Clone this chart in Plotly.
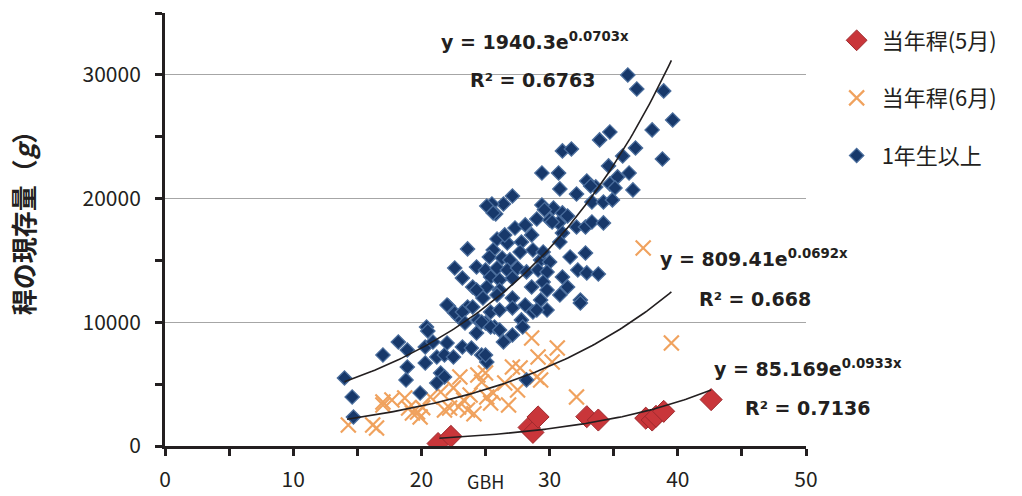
import numpy as np
import plotly.graph_objects as go

# 当年稈(5月)
may_gbh = [21.3, 22.3, 28.4, 28.7, 29.1, 32.9, 33.8, 37.5, 38.0, 38.3, 38.9, 42.6]
may_mass = [200, 780, 1500, 1100, 2350, 2370, 2100, 2250, 2100, 2400, 2800, 3750]

# 当年稈(6月)
jun_gbh = [28.6, 30.6, 29.1, 30.2, 27.1, 27.7, 29.0, 29.3, 23.0, 24.4, 25.0, 24.7,
           27.5, 17.0, 18.7, 19.9, 19.3, 19.0, 20.7, 21.5, 21.8, 22.2, 22.9, 23.6,
           23.3, 25.1, 25.6, 25.4, 26.8, 32.1, 39.5, 14.3, 16.2, 16.5, 17.7, 19.7,
           37.3, 17.0, 23.8, 26.5, 24.1, 20.1, 22.5]
jun_mass = [8730, 7920, 7190, 6790, 6390, 6310, 5580, 5340, 5580, 5740, 5900, 5170,
            4530, 3560, 3880, 2340, 2670, 3070, 3960, 4370, 2910, 3070, 3150, 2910,
            3720, 3960, 4280, 3480, 3310, 3960, 8330, 1700, 1700, 1460, 3720, 2750,
            16010, 3310, 4120, 5090, 2600, 3100, 4700]

# 1年生以上
old_gbh = [36.1, 36.8, 38.9, 39.6, 38.0, 34.7, 33.9, 38.8, 36.7, 31.0, 31.7, 29.4,
           30.7, 35.7, 34.6, 35.3, 36.2, 32.9, 33.6, 30.8, 32.1, 34.7, 35.1, 36.5,
           27.1, 26.4, 29.4, 30.3, 33.3, 34.2, 34.9, 25.5, 25.8, 31.0, 31.4, 29.0,
           30.0, 30.7, 23.6, 25.9, 26.7, 27.8, 28.6, 25.6, 25.3, 26.3, 26.9, 27.7,
           28.7, 29.3, 30.0, 31.0, 31.6, 22.6, 24.3, 25.0, 25.9, 26.7, 27.5, 28.2,
           29.1, 29.8, 31.0, 23.2, 25.4, 26.1, 27.1, 24.0, 25.1, 26.1, 28.6, 29.5,
           31.4, 24.8, 24.3, 25.9, 27.1, 28.1, 29.3, 29.8, 30.8, 22.1, 23.6, 22.9,
           24.4, 25.4, 26.1, 27.1, 27.8, 28.7, 29.8, 20.4, 25.0, 25.7, 33.2, 29.6,
           30.2, 32.1, 32.8, 33.3, 34.2, 30.8, 32.8, 29.5, 32.2, 32.9, 33.8, 32.4,
           14.0, 14.6, 14.7, 17.0, 18.2, 18.9, 18.9, 18.8, 19.9, 20.5, 20.3, 20.3,
           20.9, 21.2, 21.8, 22.0, 22.5, 21.5, 21.8, 21.2, 23.2, 23.9, 24.7, 25.1,
           22.0, 22.6, 23.2, 24.0, 24.7, 23.4, 24.3, 25.4, 26.1, 26.4, 27.1, 27.9,
           29.0, 32.4, 25.0, 28.2, 25.1, 25.6, 26.5, 27.3, 28.1]
old_mass = [29990, 28860, 28700, 26350, 25550, 25380, 24740, 23200, 24090, 23850, 24010, 22070,
            22070, 23440, 22640, 21750, 22070, 21420, 20940, 20780, 20370, 21180, 20860, 20700,
            20210, 19560, 19480, 19240, 19720, 19720, 19890, 19560, 18760, 18840, 18590, 18350,
            18270, 18030, 15930, 16730, 16410, 16490, 17060, 15840, 15280, 15200, 15040, 15680,
            15840, 15040, 14870, 17220, 15280, 14390, 14470, 14230, 14390, 14230, 14390, 14070,
            14230, 14070, 13660, 13580, 13660, 13420, 13580, 12850, 12850, 12610, 12850, 13260,
            12850, 11960, 12610, 12210, 11960, 11400, 11800, 12610, 12210, 11320, 11240, 10430,
            10190, 10830, 10990, 11160, 10190, 10830, 10990, 9620, 9940, 9620, 21020, 19100,
            18110, 17700, 17700, 18110, 18030, 16490, 15600, 15680, 14230, 13990, 13900, 11800,
            5500, 3960, 2340, 7360, 8410, 7760, 6390, 5340, 4280, 9300, 8000, 6710,
            8410, 7190, 7360, 8330, 7190, 5900, 5580, 5090, 8000, 7920, 7360, 6790,
            11400, 10750, 10830, 11240, 10020, 9940, 9130, 9620, 9380, 8410, 8970, 9620,
            10990, 11560, 7360, 5340, 19400, 18840, 17060, 17620, 17870]

# exponential fits: (a, b, x range, equation label, R² label)
fits = {
    "old": (1940.3, 0.0703, (14.0, 39.5), "y = 1940.3e<sup>0.0703x</sup>", "R² = 0.6763"),
    "jun": (809.41, 0.0692, (14.2, 39.5), "y = 809.41e<sup>0.0692x</sup>", "R² = 0.668"),
    "may": (85.169, 0.0933, (21.4, 42.6), "y = 85.169e<sup>0.0933x</sup>", "R² = 0.7136"),
}

INK = "#231f20"
CJK = "Noto Sans CJK JP"

fig = go.Figure()

fig.add_trace(go.Scatter(
    x=may_gbh, y=may_mass, mode="markers", name="当年稈(5月)", legendgroup="a",
    marker=dict(symbol="diamond", size=17, color="#c9363a",
                line=dict(color="#9e2a2e", width=1)),
))
fig.add_trace(go.Scatter(
    x=jun_gbh, y=jun_mass, mode="markers", name="当年稈(6月)", legendgroup="b",
    marker=dict(symbol="x-thin", size=15, color="#f0a25e",
                line=dict(color="#f0a25e", width=2.2)),
))
fig.add_trace(go.Scatter(
    x=old_gbh, y=old_mass, mode="markers", name="1年生以上", legendgroup="c",
    marker=dict(symbol="diamond", size=11, color="#17386a",
                line=dict(color="#4a6d9c", width=1.3)),
))

for key, (a, b, (x0, x1), _, _) in fits.items():
    xs = np.linspace(x0, x1, 120)
    fig.add_trace(go.Scatter(
        x=xs, y=a * np.exp(b * xs), mode="lines", showlegend=False,
        line=dict(color=INK, width=1.6), hoverinfo="skip",
    ))

# equation labels, placed in paper coordinates
label_pos = {"old": (0.428, 0.935, 0.473, 0.845),
             "jun": (0.769, 0.434, 0.83, 0.34),
             "may": (0.853, 0.18, 0.902, 0.088)}
for key, (_, _, _, eq, r2) in fits.items():
    ex, ey, rx, ry = label_pos[key]
    fig.add_annotation(x=ex, y=ey, xref="paper", yref="paper", text=eq, showarrow=False,
                       xanchor="left", yanchor="middle",
                       font=dict(family="DejaVu Sans", size=19, color=INK, weight="bold"))
    fig.add_annotation(x=rx, y=ry, xref="paper", yref="paper", text=r2, showarrow=False,
                       xanchor="left", yanchor="middle",
                       font=dict(family="DejaVu Sans", size=19, color=INK, weight="bold"))

fig.add_annotation(x=0.5, y=-0.1155, xref="paper", yref="paper", text="GBH", showarrow=False,
                   xanchor="center", yanchor="bottom",
                   font=dict(family=CJK, size=18, color=INK))
fig.add_annotation(x=-0.222, y=0.53, xref="paper", yref="paper",
                   text="稈の現存量（<i>g</i>）", showarrow=False, textangle=-90,
                   xanchor="center", yanchor="middle",
                   font=dict(family=CJK, size=26, color=INK, weight="bold"))

fig.update_xaxes(
    range=[0, 50], dtick=10, tick0=0, showgrid=False, zeroline=False, automargin=False,
    showline=True, linecolor=INK, linewidth=3,
    ticks="outside", ticklen=7, tickwidth=3, tickcolor=INK,
    minor=dict(dtick=5, ticks="outside", ticklen=7, tickwidth=3, tickcolor=INK, showgrid=False),
    tickfont=dict(family=CJK, size=21, color=INK), ticklabelstandoff=6,
)
fig.update_yaxes(
    range=[0, 35000], dtick=10000, tick0=0, tickformat="d", automargin=False,
    showgrid=True, gridcolor="#a6a6a6", gridwidth=1.2, zeroline=False,
    showline=True, linecolor=INK, linewidth=3,
    ticks="outside", ticklen=7, tickwidth=3, tickcolor=INK,
    minor=dict(dtick=5000, ticks="outside", ticklen=7, tickwidth=3, tickcolor=INK, showgrid=False),
    tickfont=dict(family=CJK, size=21, color=INK), ticklabelstandoff=10,
)

fig.update_layout(
    width=1022, height=496,
    margin=dict(l=165, r=216, t=13, b=50, autoexpand=False),
    paper_bgcolor="white", plot_bgcolor="white",
    legend=dict(x=1.04, y=0.985, xanchor="left", yanchor="top",
                font=dict(family=CJK, size=22, color=INK),
                tracegroupgap=26, itemwidth=40, bgcolor="rgba(0,0,0,0)"),
)

fig.write_html("out.html")
